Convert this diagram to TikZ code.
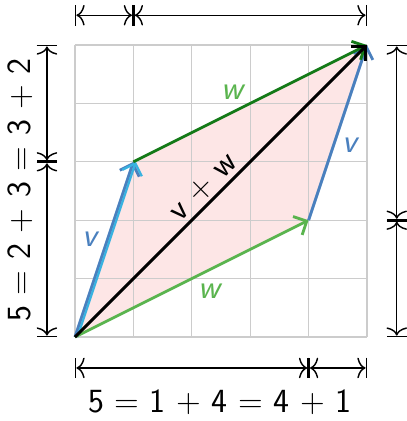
\documentclass[tikz,border=0pt]{standalone}
\usetikzlibrary{arrows.meta}
\definecolor{vblue}{HTML}{4A80BE}
\definecolor{vcyan}{HTML}{38B2E0}
\definecolor{wgreen}{HTML}{5AB44E}
\definecolor{wdark}{HTML}{137A17}
\definecolor{pinkfill}{HTML}{FDE6E6}
\tikzset{
  vec/.style={line width=1.4pt, -{Straight Barb[length=5pt,width=10pt]}},
  dimline/.style={line width=0.7pt,
    {Bar[width=10pt].Computer Modern Rightarrow[width=10pt,length=4pt]}-{Computer Modern Rightarrow[width=10pt,length=4pt].Bar[width=10pt]}},
  lbl/.style={font=\sffamily\fontsize{16.5}{19}\selectfont, inner sep=1pt}
}
\begin{document}
\begin{tikzpicture}
   \useasboundingbox (-1.284,-1.438) rectangle (5.685,5.771);
   \coordinate (O) at (0,0);
   \coordinate (V) at (1,3);
   \coordinate (W) at (4,2);
   \coordinate (S) at (5,5);
   \fill[pinkfill] (O) -- (W) -- (S) -- (V) -- cycle;
   \draw[black!20, line width=0.6pt] (0,0) grid (5,5);
   % vectors
   \draw[vec, vblue] (O) -- (V);
   \draw[vec, vcyan, line width=1.1pt] ([xshift=1.2pt]O) -- ([xshift=1.2pt]V);
   \draw[vec, wgreen] (O) -- (W);
   \draw[vec, vblue] (W) -- (S);
   \draw[vec, wdark] (V) -- (S);
   \draw[vec, black] (O) -- (S);
   \node[lbl, vblue] (v1) at (0.27,1.68) {\textit{v}};
   \node[lbl, vblue] (v2) at (4.72,3.28) {\textit{v}};
   \node[lbl, wgreen] (w1) at (2.72,4.2) {\textit{w}};
   \node[lbl, wgreen] (w2) at (2.33,0.78) {\textit{w}};
   \node[lbl, rotate=45] (vw) at (2.2,2.56) {v + w};
   % measuring bars
   \foreach \n/\x/\y in {t0/0/5.51, t1/1/5.51, t5/5/5.51,
                         b0/0/-0.53, b4/4/-0.53, b5/5/-0.53,
                         l0/-0.48/0, l3/-0.48/3, l5/-0.48/5,
                         r0/5.51/0, r2/5.51/2, r5/5.51/5}
     \coordinate (\n) at (\x,\y);
   \foreach \a/\b in {t0/t1, t1/t5, b0/b4, b4/b5, l0/l3, l3/l5, r0/r2, r2/r5}
     \draw[dimline] (\a) -- (\b);
   \node[lbl] (bsum) at (2.48,-1.11) {5 = 1 + 4 = 4 + 1};
   \node[lbl, rotate=90] (lsum) at (-0.94,2.52) {5 = 2 + 3 = 3 + 2};
\end{tikzpicture}
\end{document}
